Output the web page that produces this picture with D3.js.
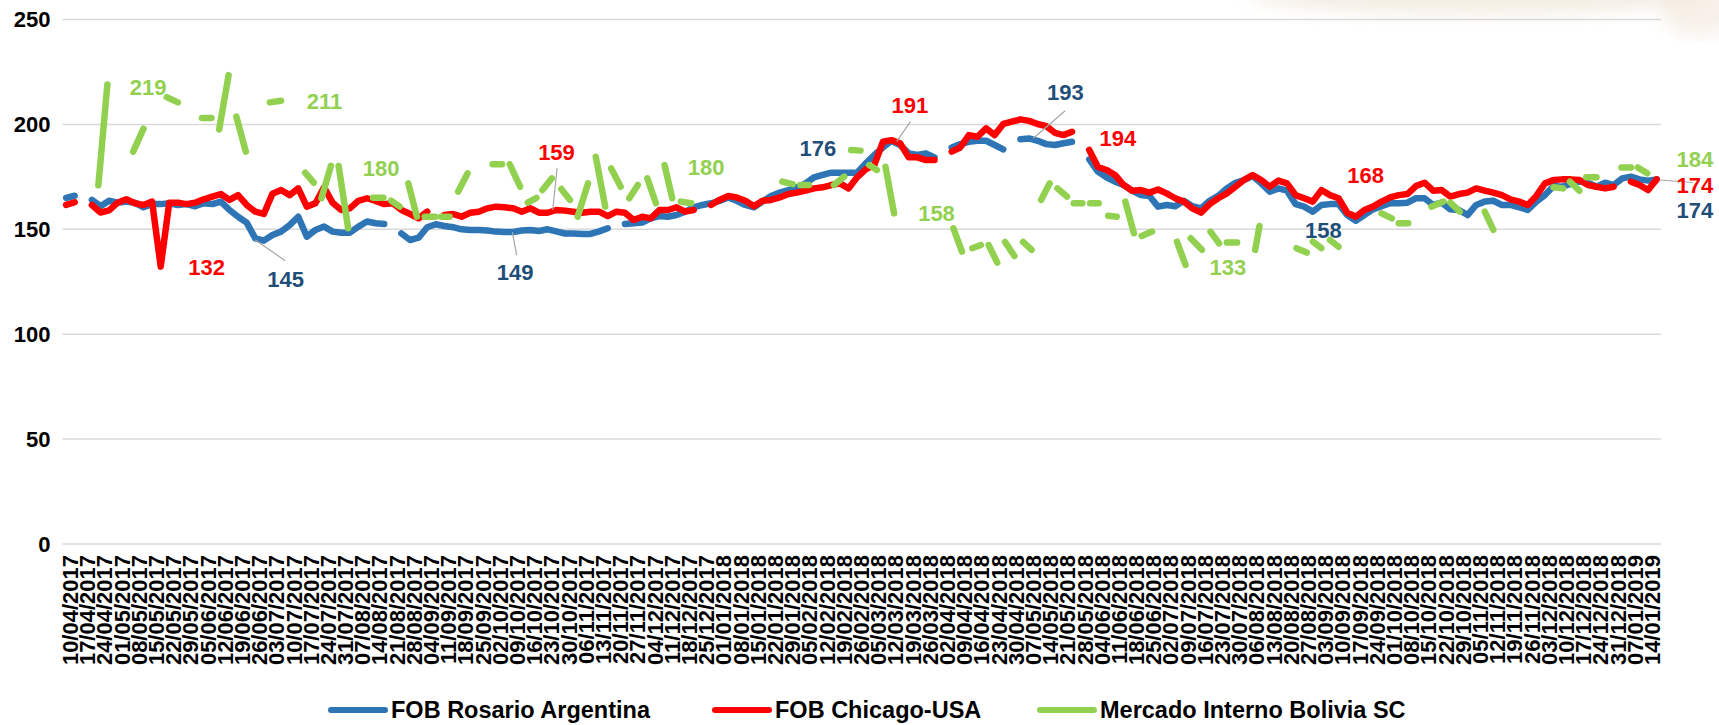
<!DOCTYPE html>
<html>
<head>
<meta charset="utf-8">
<script src="https://cdn.jsdelivr.net/npm/d3@7/dist/d3.min.js"></script>
<style>
  body { margin: 0; background: #fff; }
  text { font-family: "Liberation Sans", Arial, sans-serif; font-weight: bold; }
</style>
</head>
<body>
<svg id="svg1" width="1719" height="725"></svg>
<script>
var svgWidth = 1719;
var svgHeight = 725;

// weekly category labels
var weekLabels = [
  '10/04/2017','17/04/2017','24/04/2017','01/05/2017','08/05/2017','15/05/2017','22/05/2017','29/05/2017',
  '05/06/2017','12/06/2017','19/06/2017','26/06/2017','03/07/2017','10/07/2017','17/07/2017','24/07/2017',
  '31/07/2017','07/08/2017','14/08/2017','21/08/2017','28/08/2017','04/09/2017','11/09/2017','18/09/2017',
  '25/09/2017','02/10/2017','09/10/2017','16/10/2017','23/10/2017','30/10/2017','06/11/2017','13/11/2017',
  '20/11/2017','27/11/2017','04/12/2017','11/12/2017','18/12/2017','25/12/2017','01/01/2018','08/01/2018',
  '15/01/2018','22/01/2018','29/01/2018','05/02/2018','12/02/2018','19/02/2018','26/02/2018','05/03/2018',
  '12/03/2018','19/03/2018','26/03/2018','02/04/2018','09/04/2018','16/04/2018','23/04/2018','30/04/2018',
  '07/05/2018','14/05/2018','21/05/2018','28/05/2018','04/06/2018','11/06/2018','18/06/2018','25/06/2018',
  '02/07/2018','09/07/2018','16/07/2018','23/07/2018','30/07/2018','06/08/2018','13/08/2018','20/08/2018',
  '27/08/2018','03/09/2018','10/09/2018','17/09/2018','24/09/2018','01/10/2018','08/10/2018','15/10/2018',
  '22/10/2018','29/10/2018','05/11/2018','12/11/2018','19/11/2018','26/11/2018','03/12/2018','10/12/2018',
  '17/12/2018','24/12/2018','31/12/2018','07/01/2019','14/01/2019'
];

var yTicks = [0, 50, 100, 150, 200, 250];

// price series, two samples per week (null = no quote)
var rosario = [
  165,166,null,164,161,163.6,162.7,163.2,162.7,160.5,162,162,162.4,161.6,162,161,
  162.4,162,163.2,159.2,156,153.2,145.7,144.6,147.3,148.9,152,156,146.5,149.7,151.3,148.9,
  148.4,148.4,151.3,153.7,152.9,152.5,null,148,144.9,146,151,152.4,151.6,151,150,149.7,
  149.7,149.4,148.9,148.7,148.7,149.4,149.7,149.2,150,149,148,148,147.8,147.8,149,150.5,
  null,152.5,152.9,153.2,155.2,156.3,156,156.8,158.4,160.5,161.6,162.4,163.5,165.2,163.6,161.6,
  160.5,163.2,165.9,167.5,168.7,170,171.9,174.8,175.9,177,177,177,177,181.4,185.4,189,
  192.2,190.2,186.2,185.4,186.2,184.3,null,189,190.6,191.7,192.2,192.2,190.2,188.1,null,192.9,
  193.3,192.2,190.6,190.2,191,191.7,null,183.3,177.5,174.8,172.7,171.1,168.4,166.3,165.9,160.8,
  161.6,161,163.6,161,160,163.6,165.9,169.5,172.2,173.5,175.4,171.9,167.9,169.5,168.4,162,
  160.8,158.4,161.6,162,162,156.8,154.1,156.8,159.5,161,162.4,162.4,162.7,164.8,164.8,161.6,
  162.7,159.5,159.2,156.8,161.6,163.2,163.6,161.6,161.6,160.5,159.2,163.2,166.3,170.6,170.3,171.6,
  173.2,172.2,170.3,172.2,171.1,174.3,175.1,173.8,173.2,173.8
];

var chicago = [
  161.6,162.9,null,161.6,158,159,162.7,164.3,162.4,161.6,163.2,132.2,162.7,162.7,162,162.7,
  164.3,165.6,166.8,164,166.3,161.6,158.4,157.3,167,168.7,166.3,169.5,160.8,162.4,170,162.6,
  159.2,160,163.6,164.8,163.5,162,162.4,159.2,157.3,155.2,158.4,null,156.8,157.3,156,157.9,
  158.4,160,160.8,160.5,160,158.4,160,157.9,157.9,159.2,158.9,158.4,157.9,158.4,158.4,156.3,
  158.4,157.9,154.4,156,155.2,159.2,159.2,160.5,158.4,159.2,null,161.6,164,165.9,165.2,163.6,
  161,163.6,164,165.2,166.8,167.5,168.4,169.5,170,171.1,171.9,169.5,174.8,178.6,180.6,191.7,
  192.5,191,184.3,184.3,183,183,null,187,189,194.9,194.1,198.1,194.9,200.2,201.3,202.4,
  201.7,200.2,199.2,196,194.9,196.5,null,187.8,179.8,178.3,175.9,171.1,168.4,168.7,167.5,169,
  167.1,164.8,163.2,160,157.9,162,164.8,167.1,170.3,173.5,175.9,173.5,170.3,173.2,171.9,166.3,
  164.8,163.2,168.7,166.3,164.8,157.9,156,159.2,160.8,163.2,165.2,166.3,166.8,170.6,172.2,168.4,
  168.7,165.6,166.8,167.5,169.5,168.4,167.5,166.3,164.3,163.2,161.6,165.9,171.9,173.5,173.8,173.8,
  173.5,171.1,170.3,169.5,170.3,null,172.7,171.1,168.7,173.8
];

// Bolivia quotes are sparse: position in half-week steps, price, null breaks the line
var boliviaAt = [
  3.75,4.8,null, 7.8,9.0,null, 11.7,13.0,null, 15.8,16.9,null, 17.8,18.9,null, 19.8,20.9,null,
  23.7,25.0,null, 27.8,28.8,null, 29.7,30.8,null, 31.7,32.8,null, 35.7,36.9,null, 37.8,38.8,null,
  39.8,40.8,null, 41.7,42.9,null, 43.6,44.6,null, 45.6,46.7,null, 49.6,50.7,null, 51.6,52.8,null,
  53.7,54.7,null, 55.4,56.5,null, 57.6,58.6,null, 59.5,60.7,null, 61.6,62.7,null, 63.4,64.5,null,
  65.5,66.5,null, 67.6,68.6,null, 69.6,70.5,null, 71.5,72.7,null, 83.3,84.5,null, 85.4,86.4,null,
  89.3,90.5,null, 91.3,92.4,null, 93.4,94.3,null, 95.3,96.3,null, 103.2,104.2,null, 105.4,106.4,null,
  107.3,108.3,null, 109.2,110.3,null, 111.3,112.3,null, 113.4,114.4,null, 115.3,116.4,null, 117.2,118.2,null,
  119.1,120.1,null, 121.2,122.2,null, 123.2,124.2,null, 125.1,126.3,null, 129.2,130.2,null, 130.8,132.1,null,
  133.1,134.1,null, 135,136.2,null, 138.3,138.8,null, 143.1,144.3,null, 145,146,null, 147,148,null,
  153,154.2,null, 155,156.1,null, 158.8,160.2,null, 161,162.1,null, 165,166,null, 173,174.1,null,
  174.9,176,null, 176.8,178,null, 180.9,182,null, 182.8,183.9
];
var boliviaPrice = [
  171,219,null, 187,198,null, 213,210.5,null, 203,203,null, 197.6,223.5,null, 203.7,187,null,
  210.5,211.3,null, 177,172.2,null, 164.8,180.2,null, 180.2,150.5,null, 165,165,null, 163.7,160.8,null,
  171.9,156,null, 156,156,null, 156,156,null, 168,176.7,null, 181,181,null, 181,170.3,null,
  162.7,165,null, 168.7,174.3,null, 169.2,164,null, 156,171.9,null, 184.6,160.8,null, 179,170.3,null,
  164.8,171.1,null, 174.3,162.4,null, 180.6,164.8,null, 163.2,162.4,null, 172.7,171.5,null, 171.1,171.1,null,
  171.1,175.1,null, 187.8,187.5,null, 180.6,178.3,null, 179.8,157.6,null, 150.5,139.4,null, 141,142.5,null,
  142.5,134.1,null, 144,137.3,null, 144,140.2,null, 164,171.9,null, 169.5,165.6,null, 162.4,162.4,null,
  162.4,162.4,null, 156.5,156,null, 163.2,148.1,null, 146.8,148.9,null, 144.1,133,null, 145.7,140.2,null,
  148.9,143.3,null, 143.7,143.7,null, 140.2,151.6,null, 141,138.9,null, 144.1,141,null, 144.9,141.7,null,
  157.6,155.2,null, 152.9,152.9,null, 160.8,163.2,null, 162.7,158.4,null, 158.4,149.7,null, 170,169.5,null,
  172.7,168.4,null, 174.8,174.8,null, 179.5,179.5,null, 179.5,176.7
];

var seriesNames = ['FOB Rosario Argentina', 'FOB Chicago-USA', 'Mercado Interno Bolivia SC'];
var seriesColors = ['#2E75B6', '#FF0000', '#92D050'];
var labelColors = ['#1F4E79', '#FF0000', '#92D050'];

// data labels: series, anchor (half-week step), anchor value
var pointLabels = [
  {s: 2, text: '219', at: 7.4, v: 217.8},
  {s: 2, text: '211', at: 28.0, v: 210.9},
  {s: 2, text: '180', at: 34.5, v: 179.2},
  {s: 1, text: '132', at: 14.2, v: 132.0},
  {s: 0, text: '145', at: 23.4, v: 126.3},
  {s: 0, text: '149', at: 50.1, v: 129.6},
  {s: 1, text: '159', at: 54.9, v: 186.8},
  {s: 2, text: '180', at: 72.3, v: 179.7},
  {s: 0, text: '176', at: 85.3, v: 188.8},
  {s: 1, text: '191', at: 96.0, v: 209.2},
  {s: 2, text: '158', at: 99.1, v: 157.8},
  {s: 0, text: '193', at: 114.1, v: 215.4},
  {s: 1, text: '194', at: 120.2, v: 193.5},
  {s: 2, text: '133', at: 133.0, v: 132.0},
  {s: 0, text: '158', at: 144.1, v: 149.7},
  {s: 1, text: '168', at: 149.0, v: 175.9},
  {s: 2, text: '184', at: 187.3, v: 183.5},
  {s: 1, text: '174', at: 187.3, v: 171.1},
  {s: 0, text: '174', at: 187.3, v: 159.2}
];
var leaderLines = [
  [22.0, 144.9, 25.5, 135.0],
  [51.9, 148.7, 52.4, 137.7],
  [57.1, 179.1, 56.6, 159.2],
  [98.2, 201.3, 96.6, 191.8],
  [116.2, 206.5, 112.5, 193.4],
  [185.3, 173.5, 189.2, 172.3]
];

var padding = {t: 19.5, l: 62.5, r: 58, b: 181};

var svg = d3.select('#svg1');

// faded picture in the corner of the slide
var defs = svg.append('defs');
defs.append('filter').attr('id', 'blur')
    .append('feGaussianBlur').attr('stdDeviation', 8);
var deco = svg.append('g').attr('filter', 'url(#blur)');
deco.append('ellipse').attr('cx', 1480).attr('cy', -6).attr('rx', 230).attr('ry', 20)
    .style('fill', '#ece2d1').style('opacity', 0.6);
deco.append('ellipse').attr('cx', 1700).attr('cy', 8).attr('rx', 40).attr('ry', 28)
    .style('fill', '#f1e8da').style('opacity', 0.6);

var xScale = d3.scaleLinear()
    .domain([-0.41, 92.55])
    .range([padding.l, svgWidth - padding.r]);
var yScale = d3.scaleLinear()
    .domain([0, 250])
    .range([svgHeight - padding.b, padding.t]);

// samples are two per week, first one a little before the first label
function stepToWeek(k) { return k / 2 - 0.2; }

// grid lines
svg.append('g').selectAll('line')
    .data(yTicks)
    .enter()
    .append('line')
    .attr('x1', xScale.range()[0])
    .attr('x2', xScale.range()[1])
    .attr('y1', function(d) { return yScale(d); })
    .attr('y2', function(d) { return yScale(d); })
    .style('stroke', '#d9d9d9')
    .style('stroke-width', 1.5);

// y axis
var yAxis = svg.append('g')
    .attr('class', 'y_axis')
    .attr('transform', 'translate(' + (padding.l - 12) + ',0)')
    .call(d3.axisLeft(yScale).tickValues(yTicks).tickSize(0).tickPadding(0));
yAxis.select('.domain').remove();
yAxis.selectAll('text')
    .style('font-size', '22px')
    .style('font-family', '"Liberation Sans", Arial, sans-serif')
    .style('font-weight', 'bold')
    .attr('fill', '#000');

// x axis labels (rotated)
var xLabelScale = d3.scalePoint()
    .domain(weekLabels)
    .range([xScale(0), xScale(weekLabels.length - 1)]);
var xAxis = svg.append('g')
    .attr('class', 'x_axis')
    .attr('transform', 'translate(0,' + (yScale(0) + 11) + ')')
    .call(d3.axisBottom(xLabelScale).tickSize(0).tickPadding(0));
xAxis.select('.domain').remove();
xAxis.selectAll('text')
    .attr('transform', 'rotate(-90)')
    .attr('x', 0)
    .attr('y', 0)
    .attr('dy', '0.36em')
    .style('text-anchor', 'end')
    .style('font-size', '22px')
    .style('font-family', '"Liberation Sans", Arial, sans-serif')
    .style('font-weight', 'bold')
    .attr('fill', '#000');

// lines
var line = d3.line()
    .defined(function(d) { return d[1] !== null; })
    .x(function(d) { return xScale(stepToWeek(d[0])); })
    .y(function(d) { return yScale(d[1]); });

var rosarioPts = rosario.map(function(v, i) { return [i, v]; });
var chicagoPts = chicago.map(function(v, i) { return [i, v]; });
var boliviaPts = boliviaAt.map(function(p, i) { return [p, boliviaPrice[i]]; });

[rosarioPts, chicagoPts, boliviaPts].forEach(function(pts, i) {
  svg.append('path')
      .datum(pts)
      .attr('d', line)
      .style('fill', 'none')
      .style('stroke', seriesColors[i])
      .style('stroke-width', 6.5)
      .style('stroke-linecap', 'round')
      .style('stroke-linejoin', 'round');
});

// leader lines
svg.append('g').selectAll('line')
    .data(leaderLines)
    .enter()
    .append('line')
    .attr('x1', function(d) { return xScale(stepToWeek(d[0])); })
    .attr('y1', function(d) { return yScale(d[1]); })
    .attr('x2', function(d) { return xScale(stepToWeek(d[2])); })
    .attr('y2', function(d) { return yScale(d[3]); })
    .style('stroke', '#a6a6a6')
    .style('stroke-width', 1.2);

// data labels
svg.append('g').selectAll('text')
    .data(pointLabels)
    .enter()
    .append('text')
    .attr('x', function(d) { return xScale(stepToWeek(d.at)); })
    .attr('y', function(d) { return yScale(d.v); })
    .attr('dy', '0.36em')
    .text(function(d) { return d.text; })
    .style('font-size', '22px')
    .attr('fill', function(d) { return labelColors[d.s]; });

// legend
var legendX = [331, 715, 1040];
var legend = svg.append('g')
    .attr('class', 'legend')
    .attr('transform', 'translate(0,710)');
seriesNames.forEach(function(name, i) {
  legend.append('line')
      .attr('x1', legendX[i]).attr('x2', legendX[i] + 54)
      .attr('y1', 0).attr('y2', 0)
      .style('stroke', seriesColors[i])
      .style('stroke-width', 6)
      .style('stroke-linecap', 'round');
  legend.append('text')
      .attr('x', legendX[i] + 60)
      .attr('y', 0)
      .attr('dy', '0.36em')
      .text(name)
      .style('font-size', '23.5px')
      .attr('fill', '#000');
});
</script>
</body>
</html>
